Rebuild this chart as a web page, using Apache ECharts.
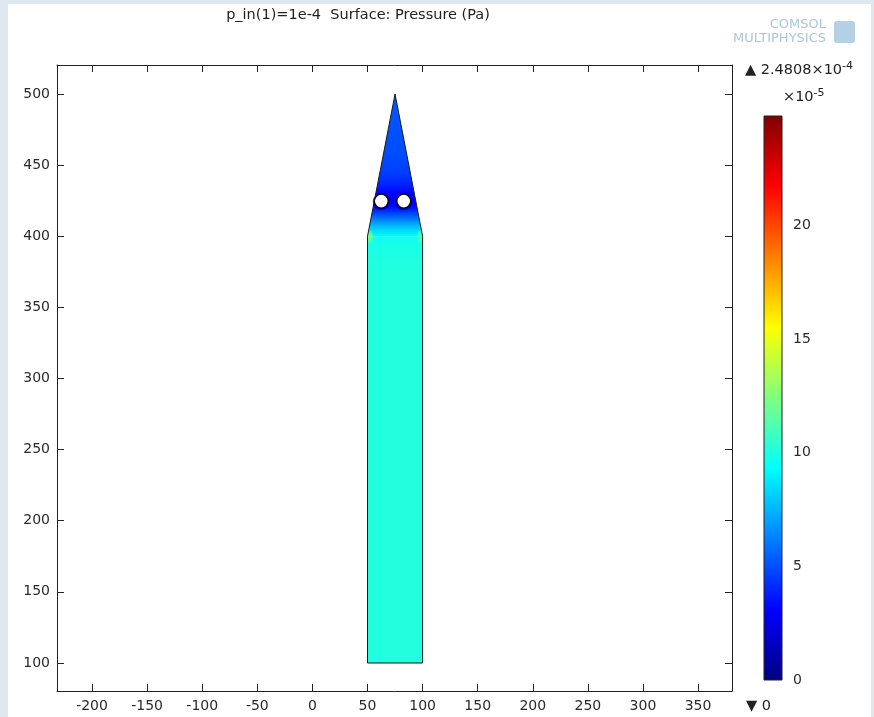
<!DOCTYPE html>
<html>
<head>
<meta charset="utf-8">
<script src="https://cdn.jsdelivr.net/npm/echarts@6/dist/echarts.min.js"></script>
<style>
html,body{margin:0;padding:0;background:#dfe7ef;}
#main{width:874px;height:717px;}
</style>
</head>
<body>
<div id="main"></div>
<script>
// ---- data ----
const titleText = 'p_in(1)=1e-4  Surface: Pressure (Pa)';
const xExtent = [-231.8, 380.8];
const yExtent = [80.3, 520.4];
// geometry (data units)
const rectX = [50, 100, 100, 50];
const rectY = [100, 100, 400, 400];
const triX = [50, 100, 75];
const triY = [400, 400, 500];
const holeX = [62.5, 82.9];
const holeY = [424.7, 424.7];
const holeR = 6.3;
// pressure field (x1e-5 Pa)
const rectProfileY = [100, 380, 392, 400];
const rectProfileV = [10.1, 10.1, 9.9, 9.6];
const triProfileY = [400, 404, 408, 412, 416, 420, 425, 430, 436, 445, 460, 480, 500];
const triProfileV = [9.2, 8.5, 7.4, 6.1, 4.8, 3.5, 2.8, 3.1, 3.9, 4.6, 5.0, 5.1, 5.2];
const cornerX = [50, 100];
const cornerY = [400, 400];
const cornerV = [12.8, 11.8];
const haloV = 1.2;
// colour bar
const cbMax = 24.808;
const cbTicks = [0, 5, 10, 15, 20];
const maxLabel = '2.4808×10';
const maxExp = '-4';
const minLabel = '0';
const scaleExp = '-5';

// jet colormap
const jetStops = [[0,[0,0,128]],[0.125,[0,0,255]],[0.375,[0,255,255]],[0.625,[255,255,0]],[0.875,[255,0,0]],[1,[128,0,0]]];
function jetRGB(v){
  let t = Math.max(0, Math.min(1, v / cbMax));
  for (let i = 1; i < jetStops.length; i++){
    if (t <= jetStops[i][0]){
      const a = jetStops[i-1], b = jetStops[i];
      const f = (t - a[0]) / (b[0] - a[0]);
      return a[1].map((c, k) => Math.round(c + (b[1][k] - c) * f));
    }
  }
  return jetStops[jetStops.length-1][1];
}
function jet(v, alpha){
  const c = jetRGB(v);
  return alpha == null ? `rgb(${c[0]},${c[1]},${c[2]})` : `rgba(${c[0]},${c[1]},${c[2]},${alpha})`;
}

const FONT = 'DejaVu Sans';
const chart = echarts.init(document.getElementById('main'));

function profileGradient(api, ys, vs){
  const p0 = api.coord([0, ys[0]])[1];
  const p1 = api.coord([0, ys[ys.length-1]])[1];
  const stops = ys.map((y, i) => ({ offset: (api.coord([0, y])[1] - p0) / (p1 - p0), color: jet(vs[i]) }));
  return new echarts.graphic.LinearGradient(0, p0, 0, p1, stops, true);
}

const axisStyle = { onZero: false, lineStyle: { color: '#222', width: 1 } };
const tickStyle = { show: true, inside: true, length: 7, lineStyle: { color: '#222', width: 1 } };
const labelStyle = { fontFamily: FONT, fontSize: 14, color: '#2a2a2a', showMinLabel: false, showMaxLabel: false };

const option = {
  backgroundColor: 'transparent',
  animation: false,
  grid: [
    { left: 57, right: 142, top: 65, bottom: 26, show: false },
    { left: 764, width: 18, top: 116, height: 564, show: false }
  ],
  xAxis: [
    { type: 'value', gridIndex: 0, position: 'bottom', min: xExtent[0], max: xExtent[1], splitNumber: 12, minInterval: 50, maxInterval: 50,
      axisLine: axisStyle, axisTick: tickStyle, axisLabel: Object.assign({ margin: 8 }, labelStyle), splitLine: { show: false } },
    { type: 'value', gridIndex: 0, position: 'top', min: xExtent[0], max: xExtent[1], splitNumber: 12, minInterval: 50, maxInterval: 50,
      axisLine: axisStyle, axisTick: tickStyle, axisLabel: { show: false }, splitLine: { show: false } },
    { type: 'value', gridIndex: 1, min: 0, max: 1, show: false }
  ],
  yAxis: [
    { type: 'value', gridIndex: 0, position: 'left', min: yExtent[0], max: yExtent[1], splitNumber: 9, minInterval: 50, maxInterval: 50,
      axisLine: axisStyle, axisTick: tickStyle, axisLabel: Object.assign({ margin: 7 }, labelStyle), splitLine: { show: false } },
    { type: 'value', gridIndex: 0, position: 'right', min: yExtent[0], max: yExtent[1], splitNumber: 9, minInterval: 50, maxInterval: 50,
      axisLine: axisStyle, axisTick: tickStyle, axisLabel: { show: false }, splitLine: { show: false } },
    { type: 'value', gridIndex: 1, position: 'right', min: 0, max: cbMax, interval: 5,
      axisLine: { show: false }, axisTick: { show: false }, splitLine: { show: false },
      axisLabel: { fontFamily: FONT, fontSize: 14, color: '#2a2a2a', margin: 11, showMaxLabel: false,
        formatter: v => (cbTicks.indexOf(v) >= 0 ? String(v) : '') } }
  ],
  series: [
    { // domain fill
      type: 'custom', xAxisIndex: 0, yAxisIndex: 0, data: [0], z: 2,
      renderItem: function(params, api){
        const rectPts = rectX.map((x, i) => api.coord([x, rectY[i]]));
        const triPts = triX.map((x, i) => api.coord([x, triY[i]]));
        const children = [
          { type: 'polygon', shape: { points: rectPts }, style: { fill: profileGradient(api, rectProfileY, rectProfileV), stroke: jet(rectProfileV[0]), lineWidth: 0.5 } },
          { type: 'polygon', shape: { points: triPts }, style: { fill: profileGradient(api, triProfileY, triProfileV) } }
        ];
        cornerX.forEach((cx, i) => {
          const c = api.coord([cx, cornerY[i]]);
          const side = i === 0 ? 1 : -1;
          const pts = [[cx, cornerY[i] - 10], [cx, cornerY[i]], [cx + side * 1.5, cornerY[i] + 6], [cx + side * 5, cornerY[i] + 2], [cx + side * 5, cornerY[i] - 6]]
            .map(p => api.coord(p));
          children.push({ type: 'polygon', shape: { points: pts }, style: {
            fill: new echarts.graphic.RadialGradient(c[0], c[1], 9, [
              { offset: 0, color: jet(cornerV[i], 1) }, { offset: 1, color: jet(cornerV[i], 0) }], true) } });
        });
        return { type: 'group', children: children };
      }
    },
    { // holes
      type: 'custom', xAxisIndex: 0, yAxisIndex: 0, data: holeX.map((x, i) => [x, holeY[i]]), z: 3,
      renderItem: function(params, api){
        const c = api.coord([api.value(0), api.value(1)]);
        const r = api.size([holeR, 0])[0];
        return { type: 'group', children: [
          { type: 'circle', shape: { cx: c[0], cy: c[1] + 0.6, r: r + 1.6 }, style: { fill: jet(haloV, 0.75) } },
          { type: 'circle', shape: { cx: c[0], cy: c[1], r: r }, style: { fill: '#ffffff', stroke: '#05050f', lineWidth: 1.3 } }
        ] };
      }
    },
    { // outline
      type: 'custom', xAxisIndex: 0, yAxisIndex: 0, data: [0], z: 4,
      renderItem: function(params, api){
        const pts = [[rectX[0], rectY[0]], [rectX[1], rectY[1]], [rectX[2], rectY[2]], [triX[2], triY[2]], [rectX[3], rectY[3]]]
          .map(p => api.coord(p));
        return { type: 'polygon', shape: { points: pts }, style: { fill: 'none', stroke: '#1a1a1a', lineWidth: 1 } };
      }
    },
    { // colour bar
      type: 'custom', xAxisIndex: 2, yAxisIndex: 2, data: [[0, cbMax]], z: 3,
      renderItem: function(params, api){
        const p0 = api.coord([0, 0]);
        const p1 = api.coord([1, cbMax]);
        const stops = jetStops.map(s => ({ offset: 1 - s[0], color: `rgb(${s[1].join(',')})` }));
        return { type: 'rect', shape: { x: p0[0], y: p1[1], width: p1[0] - p0[0], height: p0[1] - p1[1] },
          style: { fill: new echarts.graphic.LinearGradient(0, 0, 0, 1, stops.reverse()), stroke: '#222', lineWidth: 1 } };
      }
    }
  ],
  graphic: [
    { type: 'rect', z: -100, silent: true, shape: { x: 8, y: 4, width: 863, height: 713 }, style: { fill: '#ffffff' } },
    { type: 'text', x: 358, y: 15, style: { text: titleText, font: `14.5px "${FONT}"`, fill: '#222', textAlign: 'center', textVerticalAlign: 'middle' } },
    { type: 'text', x: 745, y: 70, style: { text: '▲ ' + maxLabel + '{sup|' + maxExp + '}', font: `14.5px "${FONT}"`, fill: '#222', textVerticalAlign: 'middle',
        rich: { sup: { fontSize: 11, fontFamily: FONT, padding: [0, 0, 8, 0], fill: '#222' } } } },
    { type: 'text', x: 783, y: 97, style: { text: '×10{sup|' + scaleExp + '}', font: `14.5px "${FONT}"`, fill: '#222', textVerticalAlign: 'middle',
        rich: { sup: { fontSize: 11, fontFamily: FONT, padding: [0, 0, 8, 0], fill: '#222' } } } },
    { type: 'text', x: 746, y: 706, style: { text: '▼ ' + minLabel, font: `14.5px "${FONT}"`, fill: '#222', textVerticalAlign: 'middle' } },
    { type: 'text', x: 826, y: 25, style: { text: 'COMSOL', font: `13px "${FONT}"`, fill: '#a9c7dd', textAlign: 'right', textVerticalAlign: 'middle' } },
    { type: 'text', x: 826, y: 39, style: { text: 'MULTIPHYSICS', font: `13px "${FONT}"`, fill: '#a9c7dd', textAlign: 'right', textVerticalAlign: 'middle' } },
    { type: 'rect', shape: { x: 834, y: 21, width: 21, height: 22, r: 3 }, style: { fill: '#b4d0e4' } }
  ]
};
chart.setOption(option);
</script>
</body>
</html>
